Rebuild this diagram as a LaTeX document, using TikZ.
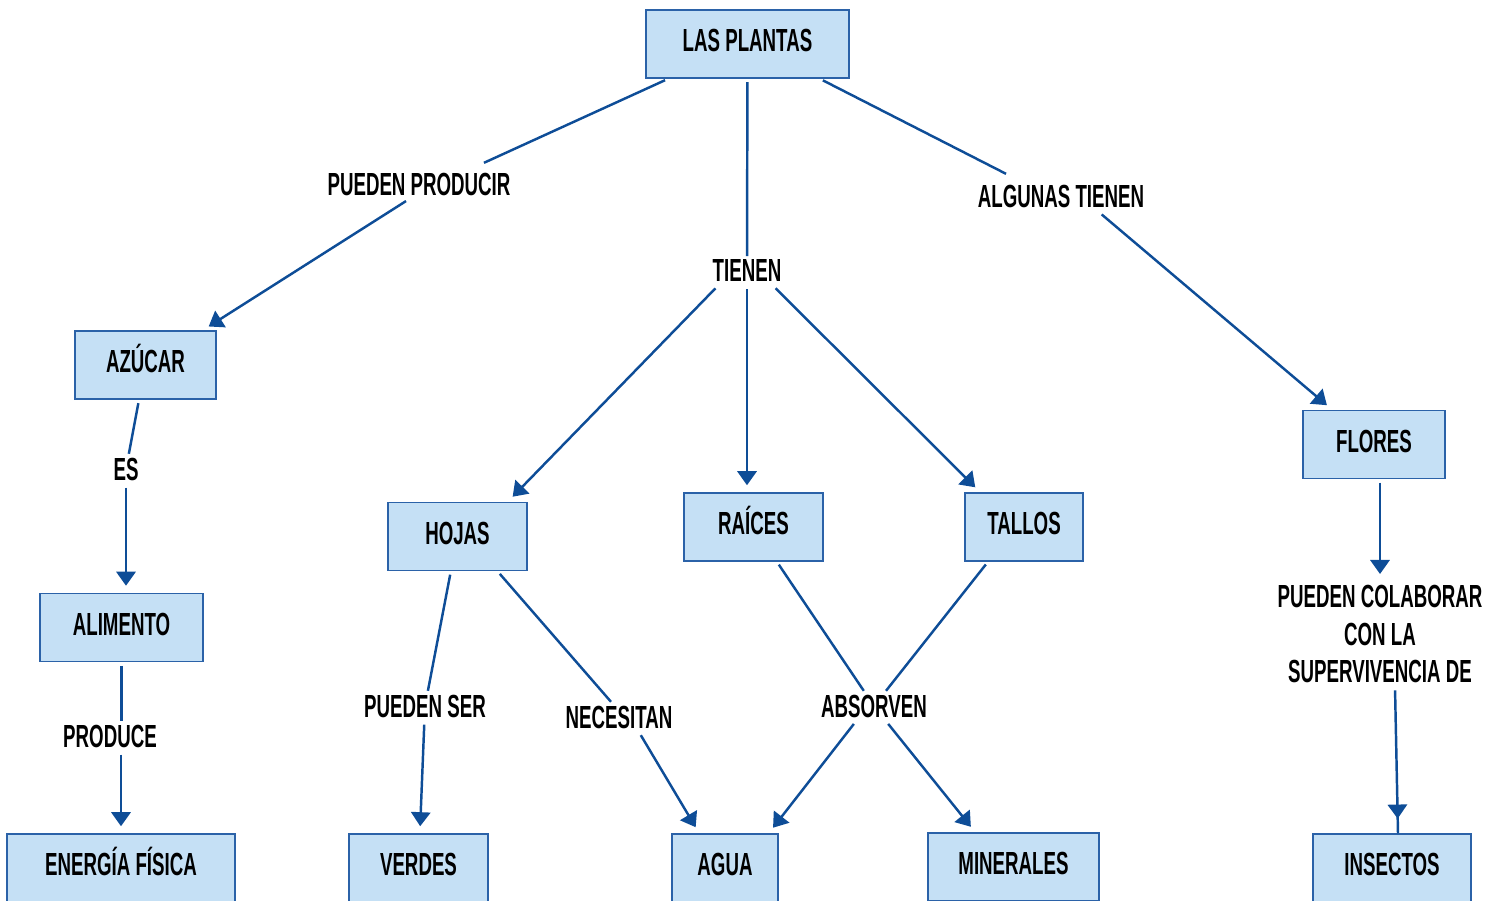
\documentclass[tikz,border=0pt]{standalone}
\usepackage{fontspec}
\newfontfamily\mapa[FakeStretch=0.585]{Liberation Sans}
\usetikzlibrary{shapes,arrows.meta,calc,decorations.markings}
\usetikzlibrary{positioning}
\definecolor{azulcaja}{HTML}{C5E0F5}
\definecolor{bordecaja}{HTML}{2B62A8}
\definecolor{azullinea}{HTML}{0E4D97}
\tikzset{
  caja/.style={rectangle, draw=bordecaja, line width=0.85pt, fill=azulcaja,
    minimum height=1.36cm, inner sep=0pt, text height=13pt, text depth=4pt,
    font=\mapa\bfseries\fontsize{18.2}{21.5}\selectfont},
  etiqueta/.style={inner sep=2pt, align=center, font=\mapa\bfseries\fontsize{18.2}{21.5}\selectfont},
  linea/.style={draw=azullinea, line width=1.4pt, shorten <=2pt},
  flecha/.style={linea, -{Triangle[length=8pt,width=11pt]}, shorten >=4pt},
  flechamedia/.style={linea, postaction={decorate}, decoration={markings,
    mark=at position 0.9 with {\arrow{Triangle[length=8pt,width=11pt]}}}}
}
\begin{document}
\begin{tikzpicture}[x=0.02cm, y=-0.02cm]
        \useasboundingbox (0,0) rectangle (1499,901);

        \node at (747.5,44) [caja, minimum width=4.06cm] (plantas) {LAS PLANTAS};
        \node at (145.5,365) [caja, minimum width=2.82cm] (azucar) {AZÚCAR};
        \node at (121.5,627.5) [caja, minimum width=3.26cm] (alimento) {ALIMENTO};
        \node at (121,868) [caja, minimum width=4.56cm] (energia) {ENERGÍA FÍSICA};
        \node at (457.5,536.5) [caja, minimum width=2.78cm] (hojas) {HOJAS};
        \node at (753.5,527) [caja, minimum width=2.78cm] (raices) {RAÍCES};
        \node at (1024,527) [caja, minimum width=2.36cm] (tallos) {TALLOS};
        \node at (1374,444.5) [caja, minimum width=2.84cm] (flores) {FLORES};
        \node at (418.5,868) [caja, minimum width=2.78cm] (verdes) {VERDES};
        \node at (725,868) [caja, minimum width=2.12cm] (agua) {AGUA};
        \node at (1013.5,867) [caja, minimum width=3.42cm] (minerales) {MINERALES};
        \node at (1392,868) [caja, minimum width=3.16cm] (insectos) {INSECTOS};

        \node at (419,184) [etiqueta] (producir) {PUEDEN PRODUCIR};
        \node at (1061,197) [etiqueta] (algunas) {ALGUNAS TIENEN};
        \node at (747,271) [etiqueta] (tienen) {TIENEN};
        \node at (126,469) [etiqueta] (es) {ES};
        \node at (110,736) [etiqueta] (produce) {PRODUCE};
        \node at (425,706) [etiqueta] (puedenser) {PUEDEN SER};
        \node at (619,717) [etiqueta] (necesitan) {NECESITAN};
        \node at (874,706) [etiqueta] (absorven) {ABSORVEN};
        \node at (1380,634) [etiqueta] (colaborar) {PUEDEN COLABORAR\\CON LA\\SUPERVIVENCIA DE};

        \draw[linea] ($(plantas.south west)+(23,0)$) -- ($(producir.north)+(65,-6)$);
        \draw[flecha] ($(producir.south)+(-10,0)$) -- ($(azucar.north east)+(-14,0)$);
        \draw[linea] (plantas) -- (tienen);
        \draw[linea] ($(plantas.south east)+(-30,0)$) -- ($(algunas.north west)+(32,-8)$);
        \draw[flecha] ($(algunas.south)+(38,0)$) -- ($(flores.north west)+(30,0)$);

        \draw[flecha] ($(tienen.south west)+(9,0)$) -- ($(hojas.north east)+(-20,0)$);
        \draw[flecha] (tienen.south) -- (tienen.south |- raices.north);
        \draw[flecha] ($(tienen.south east)+(-12,0)$) -- ($(tallos.north west)+(16,0)$);

        \draw[linea] (azucar) -- (es);
        \draw[flecha] (es) -- (es |- alimento.north);
        \draw[linea] (alimento.south) -- (alimento.south |- produce.north);
        \draw[flecha] (energia.north |- produce.south) -- (energia.north);

        \draw[linea] (hojas) -- (puedenser);
        \draw[flecha] (puedenser) -- (verdes);
        \draw[linea] ($(hojas.south)+(40,0)$) -- ($(necesitan.north)+(-8,0)$);
        \draw[flecha] ($(necesitan.south)+(20,0)$) -- ($(agua.north west)+(28,0)$);

        \draw[linea] (raices) -- (absorven);
        \draw[linea] ($(tallos.south)+(-36,0)$) -- (absorven);
        \draw[flecha] ($(absorven.south)+(-18,0)$) -- ($(agua.north east)+(-10,0)$);
        \draw[flecha] ($(absorven.south)+(12,0)$) -- ($(minerales.north west)+(48,0)$);

        \draw[flecha] (colaborar.north |- flores.south) -- (colaborar.north);
        \draw[flechamedia] ($(colaborar.south)+(15,0)$) -- ($(insectos.north)+(6,0)$);
\end{tikzpicture}
\end{document}
